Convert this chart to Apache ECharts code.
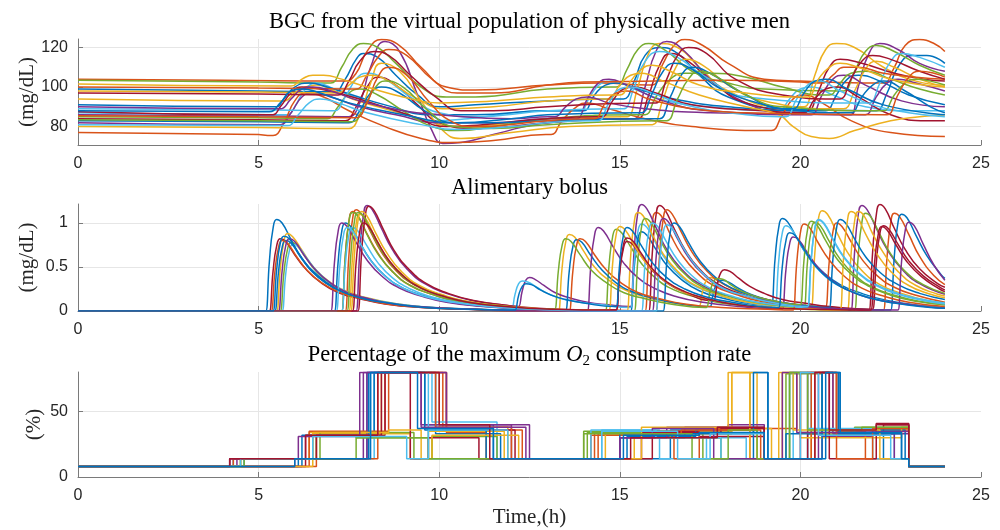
<!DOCTYPE html>
<html>
<head>
<meta charset="utf-8">
<title>BGC virtual population</title>
<script src="https://cdn.jsdelivr.net/npm/echarts@6/dist/echarts.min.js"></script>
<style>
  html, body { margin: 0; padding: 0; background: #fff; }
  #main { width: 1000px; height: 530px; }
</style>
</head>
<body>
<div id="main"></div>
<script>
// matlab default colour order
var lineColors = ['#0072BD', '#D95319', '#EDB120', '#7E2F8E', '#77AC30', '#4DBEEE', '#A2142F'];

var titleBgc = 'BGC from the virtual population of physically active men';
var titleBolus = 'Alimentary bolus';
var titleO2 = 'Percentage of the maximum {it|O}{sub|2} consumption rate';

// ---- BGC (mg/dL), [time h, value] ----
var bgc01 = [[0,99],[5,98],[6.95,97.6],[7.1,97.5],[7.4,104],[7.7,114],[7.9,117],[8.3,115],[8.8,106],[9.4,96],[10,90],[11,91],[13,93],[14.95,94],[15.1,94],[15.4,103],[15.7,116],[16.1,120],[16.6,117],[17.2,106],[18,95],[19.5,89],[21.95,88],[22.1,88],[22.4,97],[22.7,110],[23.1,116],[23.5,116],[24,112]];
var bgc02 = [[0,104],[4,103.5],[7.25,103],[7.4,103],[7.7,107],[8.0,118],[8.4,124],[8.9,121],[9.5,110],[10.2,100],[11,98.5],[13,101],[14.5,102],[15.75,101],[15.9,101],[16.2,112],[16.5,121],[16.8,124],[17.3,121],[18,112],[19,104],[20,103],[22.15,102],[22.3,102],[22.6,110],[22.9,121],[23.3,124],[23.7,122],[24,118]];
var bgc03 = [[0,94],[5.55,93],[5.7,93],[6.0,97],[6.3,100],[6.6,101],[7.1,98],[7.6,94],[8.5,89],[9.5,84],[10.5,80],[11.5,81],[13,84],[15.05,85],[15.2,85],[15.5,100],[15.8,117],[16.1,122],[16.6,120],[17.2,110],[18,98],[19.5,90],[19.95,90],[20.1,90],[20.4,106],[20.7,119],[21,122],[21.5,120],[22.3,110],[23.2,103],[24,101]];
var bgc04 = [[0,86],[5,85.5],[7.35,85],[7.5,85],[7.8,92],[8.1,110],[8.5,123],[8.9,118],[9.4,96],[9.8,78],[10.1,71.5],[10.6,72],[11.5,76],[13,82],[15.25,84],[15.4,84],[15.7,100],[16,118],[16.3,123],[16.8,118],[17.5,104],[18.5,92],[19.5,87],[21.25,86],[21.4,86],[21.6,100],[21.9,117],[22.2,122],[22.7,119],[23.3,112],[24,108]];
var bgc05 = [[0,103.5],[5,102.5],[6.85,102],[7.0,102],[7.3,110],[7.6,119],[7.9,122],[8.3,120],[8.8,112],[9.5,100],[10.2,95],[11,95],[13,99],[14.75,100],[14.9,100],[15.2,109],[15.5,119],[15.8,122],[16.3,118],[17,108],[18,102],[19,99],[21.05,98],[21.2,98],[21.5,108],[21.8,118],[22.1,121],[22.6,118],[23.3,111],[24,106]];
var bgc06 = [[0,87],[5.65,86],[5.8,86],[6.0,90],[6.3,99],[6.6,102],[7.1,99],[7.8,94],[8.8,88],[9.8,83],[10.8,84],[13,88],[13.75,88],[13.9,88],[14.2,96],[14.5,102],[14.8,103],[15.4,99],[16.3,93],[17.5,90],[19.25,88],[19.4,88],[19.7,94],[20,99],[20.3,100],[20.9,96],[21.8,90],[23,88],[24,88]];
var bgc07 = [[0,84],[5,83.5],[7.25,83],[7.4,83],[7.7,90],[8.0,100],[8.3,105],[8.8,101],[9.4,91],[10,82],[11,79],[13,82],[15.35,84],[15.5,84],[15.8,96],[16.1,111],[16.4,117],[16.9,113],[17.6,102],[18.5,92],[20.05,88],[20.2,88],[20.5,98],[20.8,110],[21.1,114],[21.7,112],[22.6,107],[23.4,104],[24,103]];
var bgc08 = [[0,91],[5.35,90],[5.5,90],[5.7,94],[6.0,100],[6.4,102],[6.9,100],[7.6,96],[8.5,91],[9.8,86],[11,86],[13,88],[13.85,88],[14.0,88],[14.3,96],[14.6,101],[14.9,102],[15.5,99],[16.5,94],[18,90],[20.55,88],[20.7,88],[21,96],[21.3,104],[21.6,106],[22.2,103],[23,96],[24,91]];
var bgc09 = [[0,77],[5,76],[5.25,75.5],[5.4,75.5],[5.7,82],[6.0,93],[6.3,97],[6.8,95],[7.5,88],[8.5,80],[9.5,74],[10.3,72],[11.5,73],[12.95,76],[13.1,76],[13.4,83],[13.8,90],[14.1,92],[14.7,89],[15.7,84],[17,80],[19.05,78],[19.2,78],[19.5,86],[19.8,94],[20.1,96],[20.6,92],[21.4,83],[22.5,77],[24,75]];
var bgc10 = [[0,80],[5,79.5],[7.35,79],[7.5,79],[7.8,86],[8.1,102],[8.4,112],[8.9,108],[9.5,93],[10.1,78],[10.6,74],[12,77],[13.6,80],[15.75,81],[15.9,81],[16.2,94],[16.5,108],[16.8,114],[17.3,111],[18,101],[19,93],[21.05,89],[21.2,89],[21.5,98],[21.8,109],[22.1,113],[22.6,110],[23.3,104],[24,100]];
var bgc11 = [[0,82],[5.45,81],[5.6,81],[5.9,87],[6.2,95],[6.5,97],[7,95],[7.8,90],[8.8,86],[10,82],[11.5,82],[13,84],[13.65,84],[13.8,84],[14.1,94],[14.4,102],[14.7,104],[15.2,101],[16.2,93],[17.5,88],[20.15,86],[20.3,86],[20.6,96],[20.9,104],[21.2,106],[21.8,101],[22.8,93],[24,90]];
var bgc12 = [[0,85],[5,84.5],[6.75,84],[6.9,84],[7.2,90],[7.5,97],[7.8,99],[8.3,96],[9,88],[9.8,80],[10.5,78],[11.5,80],[13,84],[15.55,86],[15.7,86],[16.0,95],[16.4,104],[16.8,107],[17.5,107],[18.5,105],[19.5,100],[20.65,96],[20.8,96],[21.1,102],[21.4,107],[21.8,108],[22.5,104],[23.3,99],[24,96]];
var bgc13 = [[0,89],[5,88.5],[6.95,88],[7.1,88],[7.4,95],[7.7,104],[8.0,107],[8.5,104],[9.2,95],[10,87],[11,85],[13,88],[14.95,89],[15.1,89],[15.4,100],[15.7,113],[16.1,118],[16.6,115],[17.3,106],[18.5,95],[21.75,92],[21.9,92],[22.2,102],[22.5,113],[22.8,117],[23.3,115],[24,110]];
var bgc14 = [[0,87.5],[5.25,86],[5.4,86],[5.6,90],[5.9,97],[6.2,100],[6.7,99],[7.4,96],[8.3,91],[9.3,85],[10.2,80],[11.2,81],[13,84],[14.35,85],[14.5,85],[14.8,93],[15.1,99],[15.4,100],[16,97],[17,91],[19,88],[19.95,87],[20.1,87],[20.4,94],[20.7,99],[21,100],[21.6,95],[22.5,86],[23.5,83],[24,83]];
var bgc15 = [[0,83],[5,82.5],[7.35,82],[7.5,82],[7.8,88],[8.1,97],[8.4,100],[8.9,97],[9.6,88],[10.4,82],[11.5,82],[13,83],[15.95,84],[16.1,84],[16.4,95],[16.7,106],[17,110],[17.5,107],[18.3,98],[19.5,89],[21.25,87],[21.4,87],[21.7,95],[22,101],[22.3,103],[22.9,98],[23.6,90],[24,87]];
var bgc16 = [[0,100],[5,99.5],[7.55,99],[7.7,99],[8.0,106],[8.3,115],[8.6,119],[9.1,116],[9.8,104],[10.5,97],[11.5,97],[13,101],[14,102.5],[16,103],[18,103.5],[20,102.5],[20.45,102],[20.6,102],[20.9,106],[21.2,110],[21.6,110],[22.3,107],[23.2,105],[24,104]];
var bgc17 = [[0,98],[5,97.5],[7.05,97],[7.2,97],[7.5,101],[7.8,105],[8.1,106],[8.6,103],[9.3,95],[10.2,89],[11.5,90],[13,93],[14.55,94],[14.7,94],[15,101],[15.3,106],[15.6,107],[16.2,103],[17.2,96],[18.5,90],[19.4,86],[19.8,80],[20.3,75],[20.8,74],[21.5,78],[22.5,83],[23.3,85],[24,86]];
var bgc18 = [[0,90],[5.45,89],[5.6,89],[5.9,94],[6.2,99],[6.5,100],[7,98],[7.8,93],[9,88],[10,86],[12,84],[13.05,85],[13.2,85],[13.5,90],[13.8,94],[14.1,95],[14.7,92],[15.7,89],[17.5,87],[21.65,86],[21.8,86],[22.1,95],[22.4,102],[22.7,104],[23.2,102],[24,98]];
var bgc19 = [[0,83.5],[5,83],[7.45,82.5],[7.6,82.5],[7.9,89],[8.2,99],[8.5,103],[9,100],[9.7,88],[10.4,80],[11.5,79],[13,81],[16.15,83],[16.3,83],[16.6,94],[16.9,104],[17.2,108],[17.7,105],[18.5,96],[19.5,90],[22.15,88],[22.3,88],[22.6,96],[22.9,102],[23.2,104],[23.6,103],[24,101]];
var bgc20 = [[0,81],[5.65,80.5],[5.8,80.5],[6.1,86],[6.4,92],[6.7,94],[7.2,92],[8,87],[9.5,81],[10.5,78.5],[12,80],[13,82],[14.25,83],[14.4,83],[14.7,92],[15.0,99],[15.3,100],[15.9,97],[16.8,91],[18.5,86],[19.45,85],[19.6,85],[19.9,94],[20.2,101],[20.5,103],[21.1,98],[22,91],[23,87],[24,85]];
var bgc21 = [[0,97],[5,96.5],[7.05,96],[7.2,96],[7.5,103],[7.8,113],[8.2,118],[8.6,116],[9.2,106],[9.9,95],[10.6,88],[11.5,88],[13,90],[15.85,92],[16,92],[16.3,104],[16.6,116],[16.9,120],[17.4,117],[18.2,104],[19.5,96],[20.95,94],[21.1,94],[21.4,104],[21.7,113],[22,116],[22.5,114],[23.3,108],[24,104]];
var bgc22 = [[0,88],[5.15,87.5],[5.3,87.5],[5.6,92],[5.9,98],[6.2,99],[6.7,97],[7.5,92],[9,86],[10.5,82],[12,84],[13,86],[15.45,87],[15.6,87],[15.9,97],[16.2,108],[16.5,112],[17,109],[17.8,99],[19,91],[19.65,89],[19.8,89],[20.1,97],[20.4,103],[20.7,104],[21.3,99],[22.3,91],[24,86]];
var bgc23 = [[0,85.5],[5,85],[7.55,84.5],[7.7,84.5],[8.0,92],[8.3,105],[8.6,110],[9.1,106],[9.7,93],[10.3,83],[11,80],[13,83],[14.15,84],[14.3,84],[14.6,92],[14.9,97],[15.2,98],[15.8,94],[17,89],[18.5,87],[22.25,86],[22.4,86],[22.7,96],[23,105],[23.3,108],[23.7,107],[24,105]];
var bgc24 = [[0,101.5],[5.75,100.5],[5.9,100.5],[6.2,104],[6.5,106],[6.8,106],[7.3,104],[8,100],[9,95],[10,92],[11.5,93],[13,95],[14.85,96],[15,96],[15.3,103],[15.6,109],[15.9,111],[16.4,108],[17.2,101],[18.5,97],[20.05,95],[20.2,95],[20.5,104],[20.8,110],[21.1,112],[21.6,110],[22.5,104],[24,100]];

// ---- alimentary bolus (mg/dL) ----
var bol01 = [[0,0],[5.17,0],[5.2,0],[5.3,.57],[5.4,.94],[5.5,1.04],[5.65,1.0],[5.9,.81],[6.2,.6],[6.6,.42],[7.1,.27],[7.7,.18],[8.4,.1],[9.4,.05],[10.7,.02],[12.2,.01],[15.27,0],[15.3,0],[15.4,.5],[15.5,.81],[15.6,.9],[15.75,.86],[16.0,.7],[16.3,.52],[16.7,.36],[17.2,.23],[17.8,.15],[18.5,.09],[19.17,.06],[19.2,.06],[19.3,.6],[19.4,.95],[19.5,1.05],[19.65,1.01],[19.9,.83],[20.2,.63],[20.6,.45],[21.1,.3],[21.7,.2],[22.4,.12],[23.4,.06],[24,.04]];
var bol02 = [[0,0],[7.37,0],[7.4,0],[7.5,.63],[7.6,1.04],[7.7,1.15],[7.85,1.1],[8.1,.9],[8.4,.67],[8.8,.46],[9.3,.3],[9.9,.2],[10.6,.12],[11.6,.06],[12.9,.02],[14.4,.01],[15.67,0],[15.7,0],[15.8,.62],[15.9,1.01],[16.0,1.12],[16.15,1.08],[16.4,.87],[16.7,.65],[17.1,.45],[17.6,.29],[18.2,.19],[18.9,.11],[19.9,.06],[21.2,.02],[22.27,.01],[22.3,.01],[22.4,.62],[22.5,1.0],[22.6,1.11],[22.75,1.07],[23.0,.87],[23.3,.62],[23.7,.4],[24,.3]];
var bol03 = [[0,0],[5.47,0],[5.5,0],[5.6,.48],[5.7,.79],[5.8,.88],[5.95,.84],[6.2,.69],[6.5,.51],[6.9,.35],[7.4,.23],[8.0,.15],[8.7,.09],[9.7,.04],[11.0,.02],[12.5,0],[13.27,0],[13.3,0],[13.4,.48],[13.5,.78],[13.6,.87],[13.75,.84],[14.0,.68],[14.3,.5],[14.7,.35],[15.2,.23],[15.8,.15],[16.5,.09],[17.17,.06],[17.2,.06],[17.3,.24],[17.4,.35],[17.5,.38],[17.65,.36],[17.9,.3],[18.2,.23],[18.6,.16],[19.1,.11],[19.7,.07],[20.27,.05],[20.3,.05],[20.4,.66],[20.5,1.05],[20.6,1.14],[20.75,1.1],[21.0,.9],[21.3,.67],[21.7,.46],[22.2,.3],[22.8,.2],[23.5,.12],[24,.09]];
var bol04 = [[0,0],[7.67,0],[7.7,0],[7.8,.66],[7.9,1.08],[8.0,1.2],[8.15,1.15],[8.4,.94],[8.7,.7],[9.1,.48],[9.6,.31],[10.2,.2],[10.9,.12],[11.9,.06],[12.17,.05],[12.2,.05],[12.3,.23],[12.4,.35],[12.5,.38],[12.65,.36],[12.9,.29],[13.2,.21],[13.6,.15],[14.1,.1],[14.7,.07],[15.27,.05],[15.3,.05],[15.4,.7],[15.5,1.12],[15.6,1.21],[15.75,1.16],[16.0,.95],[16.3,.7],[16.7,.48],[17.2,.31],[17.8,.2],[18.5,.12],[19.5,.06],[20.8,.02],[21.37,.01],[21.4,.01],[21.5,.67],[21.6,1.09],[21.7,1.2],[21.85,1.15],[22.1,.94],[22.4,.7],[22.8,.48],[23.3,.31],[24,.19]];
var bol05 = [[0,0],[5.57,0],[5.6,0],[5.7,.43],[5.8,.7],[5.9,.78],[6.05,.75],[6.3,.61],[6.6,.45],[7.0,.31],[7.5,.2],[8.1,.13],[8.8,.08],[9.8,.04],[11.1,.02],[12.6,0],[14.57,0],[14.6,0],[14.7,.51],[14.8,.84],[14.9,.93],[15.05,.89],[15.3,.73],[15.6,.54],[16.0,.37],[16.5,.24],[17.1,.16],[17.8,.09],[18.8,.05],[20.1,.02],[21.47,.01],[21.5,.01],[21.6,.62],[21.7,1.0],[21.8,1.11],[21.95,1.07],[22.2,.87],[22.5,.65],[22.9,.45],[23.4,.3],[24,.2]];
var bol06 = [[0,0],[5.62,0],[5.65,0],[5.75,.42],[5.85,.68],[5.95,.76],[6.1,.73],[6.35,.59],[6.65,.44],[7.05,.3],[7.55,.2],[8.15,.13],[8.85,.08],[9.85,.04],[11.15,.02],[11.97,.01],[12.0,.01],[12.1,.19],[12.2,.31],[12.3,.34],[12.45,.33],[12.7,.27],[13.0,.2],[13.4,.14],[13.9,.1],[14.5,.07],[15.27,.04],[15.3,.04],[15.4,.56],[15.5,.9],[15.6,.99],[15.75,.95],[16.0,.77],[16.3,.57],[16.7,.39],[17.2,.26],[17.8,.17],[18.5,.1],[19.27,.06],[19.3,.06],[19.4,.57],[19.5,.89],[19.6,.97],[19.75,.93],[20.0,.76],[20.3,.57],[20.7,.39],[21.2,.26],[21.8,.17],[22.5,.1],[23.5,.05],[24,.03]];
var bol07 = [[0,0],[5.27,0],[5.3,0],[5.4,.45],[5.5,.74],[5.6,.82],[5.75,.79],[6.0,.64],[6.3,.48],[6.7,.33],[7.2,.21],[7.8,.14],[8.5,.08],[9.5,.04],[10.8,.02],[12.3,0],[15.77,0],[15.8,0],[15.9,.66],[16.0,1.08],[16.1,1.2],[16.25,1.15],[16.5,.94],[16.8,.7],[17.2,.48],[17.7,.31],[18.3,.2],[19.0,.12],[20.0,.06],[21.3,.02],[21.87,.01],[21.9,.01],[22.0,.67],[22.1,1.09],[22.2,1.21],[22.35,1.16],[22.6,.94],[22.9,.7],[23.3,.48],[23.8,.31],[24,.27]];
var bol08 = [[0,0],[7.07,0],[7.1,0],[7.2,.55],[7.3,.9],[7.4,1.0],[7.55,.96],[7.8,.78],[8.1,.58],[8.5,.4],[9.0,.26],[9.6,.17],[10.3,.1],[11.3,.05],[12.6,.02],[13.47,.01],[13.5,.01],[13.6,.45],[13.7,.73],[13.8,.81],[13.95,.78],[14.2,.63],[14.5,.47],[14.9,.32],[15.4,.21],[16.0,.14],[16.7,.08],[17.47,.05],[17.5,.05],[17.6,.22],[17.7,.32],[17.8,.35],[17.95,.34],[18.2,.28],[18.5,.21],[18.9,.15],[19.4,.1],[20.0,.07],[20.7,.04],[21.7,.02],[22.47,.01],[22.5,.01],[22.6,.62],[22.7,1.0],[22.8,1.1],[22.95,1.06],[23.2,.86],[23.5,.63],[23.9,.41],[24,.37]];
var bol09 = [[0,0],[7.27,0],[7.3,0],[7.4,.62],[7.5,1.02],[7.6,1.13],[7.75,1.08],[8.0,.88],[8.3,.66],[8.7,.45],[9.2,.29],[9.8,.19],[10.5,.11],[11.5,.06],[12.8,.02],[14.3,.01],[15.97,0],[16.0,0],[16.1,.63],[16.2,1.04],[16.3,1.15],[16.45,1.1],[16.7,.9],[17.0,.67],[17.4,.46],[17.9,.3],[18.5,.2],[19.2,.12],[20.2,.06],[20.67,.05],[20.7,.05],[20.8,.57],[20.9,.9],[21.0,1.0],[21.15,.96],[21.4,.79],[21.7,.59],[22.1,.41],[22.6,.27],[23.2,.18],[24,.1]];
var bol10 = [[0,0],[7.47,0],[7.5,0],[7.6,.61],[7.7,.99],[7.8,1.1],[7.95,1.06],[8.2,.86],[8.5,.64],[8.9,.44],[9.4,.29],[10.0,.19],[10.7,.11],[11.7,.06],[13.0,.02],[14.5,.01],[15.17,0],[15.2,0],[15.3,.62],[15.4,1.01],[15.5,1.12],[15.65,1.08],[15.9,.87],[16.2,.65],[16.6,.45],[17.1,.29],[17.7,.19],[18.4,.11],[19.4,.06],[20.7,.02],[21.27,.01],[21.3,.01],[21.4,.63],[21.5,1.02],[21.6,1.13],[21.75,1.09],[22.0,.88],[22.3,.66],[22.7,.45],[23.2,.29],[23.8,.19],[24,.17]];
var bol11 = [[0,0],[6.97,0],[7.0,0],[7.1,.55],[7.2,.9],[7.3,1.0],[7.45,.96],[7.7,.78],[8.0,.58],[8.4,.4],[8.9,.26],[9.5,.17],[10.2,.1],[11.2,.05],[12.5,.02],[14.07,0],[14.1,0],[14.2,.52],[14.3,.86],[14.4,.95],[14.55,.91],[14.8,.74],[15.1,.55],[15.5,.38],[16.0,.25],[16.6,.16],[17.3,.1],[18.3,.05],[19.47,.02],[19.5,.02],[19.6,.47],[19.7,.76],[19.8,.84],[19.95,.81],[20.2,.66],[20.5,.49],[20.9,.34],[21.4,.22],[22.0,.14],[22.7,.09],[23.7,.04],[24,.03]];
var bol12 = [[0,0],[7.27,0],[7.3,0],[7.4,.62],[7.5,1.01],[7.6,1.12],[7.75,1.08],[8.0,.87],[8.3,.65],[8.7,.45],[9.2,.29],[9.8,.19],[10.5,.11],[11.5,.06],[12.8,.02],[14.3,.01],[15.37,0],[15.4,0],[15.5,.58],[15.6,.95],[15.7,1.05],[15.85,1.01],[16.1,.82],[16.4,.61],[16.8,.42],[17.3,.27],[17.9,.18],[18.6,.11],[19.6,.05],[20.07,.04],[20.1,.04],[20.2,.58],[20.3,.92],[20.4,1.01],[20.55,.97],[20.8,.79],[21.1,.59],[21.5,.41],[22.0,.27],[22.6,.18],[23.3,.11],[24,.07]];
var bol13 = [[0,0],[7.27,0],[7.3,0],[7.4,.52],[7.5,.86],[7.6,.95],[7.75,.91],[8.0,.74],[8.3,.55],[8.7,.38],[9.2,.25],[9.8,.16],[10.5,.1],[11.5,.05],[12.8,.02],[14.3,0],[15.57,0],[15.6,0],[15.7,.55],[15.8,.9],[15.9,1.0],[16.05,.96],[16.3,.78],[16.6,.58],[17.0,.4],[17.5,.26],[18.1,.17],[18.8,.1],[19.8,.05],[20.17,.04],[20.2,.04],[20.3,.59],[20.4,.94],[20.5,1.04],[20.65,1.0],[20.9,.82],[21.2,.62],[21.6,.44],[22.1,.3],[22.7,.2],[23.4,.13],[24,.09]];
var bol14 = [[0,0],[7.72,0],[7.75,0],[7.85,.65],[7.95,1.07],[8.05,1.19],[8.2,1.14],[8.45,.93],[8.75,.69],[9.15,.48],[9.65,.31],[10.25,.2],[10.95,.12],[11.95,.06],[13.25,.02],[14.87,.01],[14.9,.01],[15.0,.44],[15.1,.71],[15.2,.79],[15.35,.76],[15.6,.62],[15.9,.46],[16.3,.32],[16.8,.21],[17.57,.12],[17.6,.12],[17.7,.31],[17.8,.44],[17.9,.47],[18.05,.45],[18.3,.37],[18.6,.28],[19.0,.2],[19.5,.13],[20.1,.09],[20.8,.05],[21.97,.02],[22.0,.02],[22.1,.54],[22.2,.88],[22.3,.97],[22.45,.93],[22.7,.76],[23.0,.57],[23.4,.4],[23.9,.26],[24,.24]];
var bol15 = [[0,0],[5.42,0],[5.45,0],[5.55,.44],[5.65,.72],[5.75,.8],[5.9,.77],[6.15,.62],[6.45,.46],[6.85,.32],[7.35,.21],[7.95,.14],[8.65,.08],[9.65,.04],[10.95,.02],[12.45,0],[16.17,0],[16.2,0],[16.3,.55],[16.4,.9],[16.5,1.0],[16.65,.96],[16.9,.78],[17.2,.58],[17.6,.4],[18.1,.26],[18.7,.17],[19.4,.1],[20.4,.05],[20.77,.04],[20.8,.04],[20.9,.59],[21.0,.94],[21.1,1.04],[21.25,1.0],[21.5,.82],[21.8,.62],[22.2,.44],[22.7,.3],[23.3,.2],[24,.13]];
var bol16 = [[0,0],[5.32,0],[5.35,0],[5.45,.44],[5.55,.72],[5.65,.8],[5.8,.77],[6.05,.62],[6.35,.46],[6.75,.32],[7.25,.21],[7.85,.14],[8.55,.08],[9.55,.04],[10.85,.02],[12.35,0],[13.57,0],[13.6,0],[13.7,.45],[13.8,.74],[13.9,.82],[14.05,.79],[14.3,.64],[14.6,.48],[15.0,.33],[15.5,.21],[16.1,.14],[16.8,.08],[17.8,.04],[19.1,.02],[19.77,.01],[19.8,.01],[19.9,.55],[20.0,.89],[20.1,.99],[20.25,.95],[20.5,.77],[20.8,.58],[21.2,.4],[21.7,.26],[22.3,.17],[23.0,.1],[24,.05]];
var bol17 = [[0,0],[7.52,0],[7.55,0],[7.65,.62],[7.75,1.02],[7.85,1.13],[8.0,1.08],[8.25,.88],[8.55,.66],[8.95,.45],[9.45,.29],[10.05,.19],[10.75,.11],[11.75,.06],[13.05,.02],[14.67,.01],[14.7,.01],[14.8,.53],[14.9,.87],[15.0,.96],[15.15,.92],[15.4,.75],[15.7,.56],[16.1,.39],[16.6,.25],[17.2,.16],[17.9,.1],[18.9,.05],[20.2,.02],[21.07,.01],[21.1,.01],[21.2,.63],[21.3,1.02],[21.4,1.13],[21.55,1.09],[21.8,.88],[22.1,.66],[22.5,.45],[23.0,.29],[23.6,.19],[24,.15]];
var bol18 = [[0,0],[5.52,0],[5.55,0],[5.65,.45],[5.75,.74],[5.85,.82],[6.0,.79],[6.25,.64],[6.55,.48],[6.95,.33],[7.45,.21],[8.05,.14],[8.75,.08],[9.75,.04],[11.05,.02],[12.55,0],[15.87,0],[15.9,0],[16.0,.58],[16.1,.95],[16.2,1.05],[16.35,1.01],[16.6,.82],[16.9,.61],[17.3,.42],[17.8,.27],[18.4,.18],[19.1,.11],[20.1,.05],[21.4,.02],[22.67,.01],[22.7,.01],[22.8,.56],[22.9,.91],[23.0,1.01],[23.15,.97],[23.4,.76],[23.7,.52],[24,.35]];
var bol19 = [[0,0],[7.42,0],[7.45,0],[7.55,.62],[7.65,1.01],[7.75,1.12],[7.9,1.08],[8.15,.87],[8.45,.65],[8.85,.45],[9.35,.29],[9.95,.19],[10.65,.11],[11.65,.06],[12.95,.02],[13.17,.02],[13.2,.02],[13.3,.46],[13.4,.74],[13.5,.82],[13.65,.79],[13.9,.64],[14.2,.47],[14.6,.33],[15.1,.21],[15.7,.14],[16.4,.08],[17.37,.04],[17.4,.04],[17.5,.22],[17.6,.34],[17.7,.37],[17.85,.36],[18.1,.29],[18.4,.22],[18.8,.16],[19.3,.11],[19.97,.07],[20.0,.07],[20.1,.58],[20.2,.93],[20.3,1.02],[20.45,.98],[20.7,.8],[21.0,.6],[21.4,.42],[21.9,.28],[22.5,.18],[23.2,.11],[24,.07]];
var bol20 = [[0,0],[7.12,0],[7.15,0],[7.25,.52],[7.35,.86],[7.45,.95],[7.6,.91],[7.85,.74],[8.15,.55],[8.55,.38],[9.05,.25],[9.65,.16],[10.35,.1],[11.35,.05],[12.65,.02],[14.15,0],[15.97,0],[16.0,0],[16.1,.54],[16.2,.88],[16.3,.98],[16.45,.94],[16.7,.76],[17.0,.57],[17.4,.39],[17.9,.25],[18.5,.17],[19.2,.1],[20.17,.05],[20.2,.05],[20.3,.59],[20.4,.93],[20.5,1.03],[20.65,.99],[20.9,.81],[21.2,.61],[21.6,.43],[22.1,.29],[22.7,.19],[23.4,.12],[24,.08]];
var bol21 = [[0,0],[7.57,0],[7.6,0],[7.7,.55],[7.8,.9],[7.9,1.0],[8.05,.96],[8.3,.78],[8.6,.58],[9.0,.4],[9.5,.26],[10.1,.17],[10.8,.1],[11.8,.05],[13.1,.02],[14.87,.01],[14.9,.01],[15.0,.46],[15.1,.75],[15.2,.83],[15.35,.8],[15.6,.65],[15.9,.48],[16.3,.33],[16.8,.22],[17.4,.14],[18.1,.08],[19.1,.04],[20.4,.02],[21.92,.01],[21.95,.01],[22.05,.53],[22.15,.86],[22.25,.96],[22.4,.92],[22.65,.75],[22.95,.56],[23.35,.39],[23.85,.25],[24,.22]];
var bol22 = [[0,0],[5.37,0],[5.4,0],[5.5,.47],[5.6,.77],[5.7,.85],[5.85,.82],[6.1,.66],[6.4,.49],[6.8,.34],[7.3,.22],[7.9,.14],[8.6,.09],[9.6,.04],[10.9,.02],[12.07,.01],[12.1,.01],[12.2,.18],[12.3,.28],[12.4,.31],[12.55,.3],[12.8,.24],[13.1,.18],[13.5,.13],[14.0,.09],[14.87,.05],[14.9,.05],[15.0,.55],[15.1,.86],[15.2,.95],[15.35,.91],[15.6,.74],[15.9,.55],[16.3,.38],[16.8,.25],[17.4,.16],[18.1,.1],[19.37,.04],[19.4,.04],[19.5,.51],[19.6,.8],[19.7,.89],[19.85,.86],[20.1,.7],[20.4,.52],[20.8,.36],[21.3,.24],[21.9,.15],[22.6,.09],[23.6,.04],[24,.03]];

// ---- O2 consumption (%), step changes [time h, new level] ----
var o2s01 = [[0,8],[6.1,14],[8.0,80],[9.6,40],[11.5,14],[16.4,36],[18.6,80],[19.1,14],[20.2,33],[22.3,14],[23.0,8],[24,8]];
var o2s02 = [[0,8],[6.6,33],[8.5,80],[10.1,36],[12.3,14],[14.3,34],[17.5,37],[19.9,80],[20.9,36],[23.0,8],[24,8]];
var o2s03 = [[0,8],[4.5,14],[6.4,34],[8.4,80],[10.0,38],[11.9,14],[15.4,35],[18.1,80],[18.8,14],[20.3,33],[22.4,35],[23.0,8],[24,8]];
var o2s04 = [[0,8],[4.4,14],[7.9,80],[9.5,40],[12.0,14],[15.0,30],[16.8,38],[19.0,14],[20.6,31],[22.0,33],[23.0,8],[24,8]];
var o2s05 = [[0,8],[4.6,14],[6.6,32],[7.7,30],[9.8,14],[14.1,34],[16.2,33],[17.3,14],[19.6,79],[20.6,32],[21.8,37],[23.0,8],[24,8]];
var o2s06 = [[0,8],[4.6,14],[8.2,80],[9.8,42],[11.6,14],[14.5,36],[16.1,14],[17.4,30],[18.5,14],[19.8,80],[20.3,34],[22.6,14],[23.0,8],[24,8]];
var o2s07 = [[0,8],[4.2,14],[6.3,32],[8.5,80],[10.2,36],[12.1,14],[15.9,35],[17.2,31],[19.0,14],[20.2,80],[21.0,34],[22.3,40],[23.0,8],[24,8]];
var o2s08 = [[0,8],[6.2,32],[8.2,80],[9.9,33],[11.7,14],[15.2,31],[17.1,36],[18.7,14],[19.6,33],[20.6,80],[21.1,36],[22.9,14],[23.0,8],[24,8]];
var o2s09 = [[0,8],[6.4,35],[8.6,80],[10.2,34],[11.3,14],[14.2,32],[16.5,14],[17.2,36],[18.6,14],[20.3,80],[21.0,35],[21.8,14],[23.0,8],[24,8]];
var o2s10 = [[0,8],[4.5,14],[6.5,33],[9.2,14],[9.7,35],[11.8,14],[14.6,33],[18.1,80],[18.6,37],[19.2,14],[19.5,80],[20.0,30],[22.8,38],[23.0,8],[24,8]];
var o2s11 = [[0,8],[6.0,14],[8.0,80],[10.2,40],[12.5,14],[15.0,30],[16.3,38],[18.0,40],[19.0,14],[20.5,80],[20.9,33],[22.6,14],[23.0,8],[24,8]];
var o2s12 = [[0,8],[4.5,14],[6.7,34],[9.3,14],[9.8,31],[11.6,14],[14.0,35],[16.4,30],[17.8,14],[19.7,80],[20.0,34],[21.5,38],[23.0,8],[24,8]];
var o2s13 = [[0,8],[4.6,14],[6.5,32],[8.1,80],[9.7,14],[14.2,36],[16.0,30],[17.8,14],[19.7,80],[20.2,37],[22.0,14],[23.0,8],[24,8]];
var o2s14 = [[0,8],[6.3,14],[6.6,32],[8.4,80],[9.2,14],[9.7,30],[11.1,14],[15.6,34],[17.8,37],[19.0,14],[20.0,80],[20.8,14],[22.1,40],[23.0,8],[24,8]];
var o2s15 = [[0,8],[4.3,14],[8.05,80],[9.6,36],[11.3,14],[15.0,33],[18.7,80],[19.1,14],[20.6,80],[21.05,33],[22.8,14],[23.0,8],[24,8]];
var o2s16 = [[0,8],[4.3,14],[8.3,80],[9.9,38],[12.0,14],[14.4,33],[16.7,36],[18.9,14],[20.4,80],[21.0,14],[22.0,37],[23.0,8],[24,8]];
var o2s17 = [[0,8],[6.5,34],[8.6,36],[9.5,14],[9.8,32],[12.2,14],[15.6,38],[18.0,80],[18.6,14],[19.4,80],[19.8,36],[22.2,14],[23.0,8],[24,8]];
var o2s18 = [[0,8],[4.2,14],[6.1,31],[7.8,80],[9.5,38],[12.4,14],[15.0,30],[15.9,37],[17.6,14],[19.5,80],[19.9,34],[21.2,35],[23.0,8],[24,8]];
var o2s19 = [[0,8],[4.6,14],[7.7,30],[9.7,14],[14.0,33],[17.0,14],[18.0,36],[18.8,14],[19.7,80],[20.2,36],[21.7,38],[23.0,8],[24,8]];
var o2s20 = [[0,8],[4.5,14],[6.5,31],[9.1,14],[9.7,36],[11.9,14],[14.5,35],[16.6,14],[17.5,33],[19.0,14],[20.0,80],[20.5,32],[22.5,14],[23.0,8],[24,8]];
var o2s21 = [[0,8],[4.2,14],[6.3,32],[8.3,80],[10.0,40],[11.4,14],[15.3,30],[17.7,38],[19.0,14],[20.4,80],[20.8,36],[22.1,41],[23.0,8],[24,8]];
var o2s22 = [[0,8],[6.0,14],[8.1,80],[9.4,37],[11.5,14],[15.1,32],[17.2,34],[19.0,14],[20.7,80],[21.1,34],[22.8,14],[23.0,8],[24,8]];

var bgcCurves = [bgc01, bgc02, bgc03, bgc04, bgc05, bgc06, bgc07, bgc08, bgc09, bgc10, bgc11, bgc12,
  bgc13, bgc14, bgc15, bgc16, bgc17, bgc18, bgc19, bgc20, bgc21, bgc22, bgc23, bgc24];
var bolusCurves = [bol01, bol02, bol03, bol04, bol05, bol06, bol07, bol08, bol09, bol10, bol11,
  bol12, bol13, bol14, bol15, bol16, bol17, bol18, bol19, bol20, bol21, bol22];
var o2Curves = [o2s01, o2s02, o2s03, o2s04, o2s05, o2s06, o2s07, o2s08, o2s09, o2s10, o2s11,
  o2s12, o2s13, o2s14, o2s15, o2s16, o2s17, o2s18, o2s19, o2s20, o2s21, o2s22];

// axis limits (tight, like matlab "axis tight")
var yLimits = [[70.7, 124.3], [0, 1.216], [0, 80.3]];
var yStep = [20, 0.5, 50];
var yNames = ['(mg/dL)', '(mg/dL)', '(%)'];
var yNameGap = [40, 40, 33];

var serif = 'Liberation Serif';
var sans = 'Liberation Sans';
var axisGray = '#7a7a7a';
var textDark = '#262626';

var grids = [
  { left: 78, right: 19, top: 39, height: 106, outerBoundsMode: 'none' },
  { left: 78, right: 19, top: 204, height: 107, outerBoundsMode: 'none' },
  { left: 78, right: 19, top: 372, height: 105, outerBoundsMode: 'none' }
];

function makeSeries(curves, idx, isStep) {
  return curves.map(function (d, i) {
    var c = lineColors[i % lineColors.length];
    return {
      type: 'line',
      xAxisIndex: idx,
      yAxisIndex: idx,
      data: d,
      symbol: 'none',
      showSymbol: false,
      smooth: isStep ? false : 0.5,
      step: isStep ? 'end' : false,
      silent: true,
      lineStyle: { width: 1.5, color: c },
      itemStyle: { color: c }
    };
  });
}

function setOption(chart) {
  var xAxes = [], yAxes = [];
  for (var k = 0; k < 3; k++) {
    xAxes.push({
      type: 'value',
      gridIndex: k,
      min: 0,
      max: 25,
      interval: 5,
      name: k === 2 ? 'Time,(h)' : '',
      nameLocation: 'middle',
      nameGap: 30,
      nameMoveOverlap: false,
      nameTextStyle: { fontFamily: serif, fontSize: 21, color: textDark },
      axisLine: { onZero: false, lineStyle: { color: axisGray, width: 1 } },
      axisTick: { inside: true, length: 5, lineStyle: { color: axisGray } },
      axisLabel: { color: textDark, fontFamily: sans, fontSize: 16, margin: 11 },
      splitLine: { show: true, showMinLine: false, showMaxLine: false, lineStyle: { color: '#e6e6e6', width: 1 } }
    });
    yAxes.push({
      type: 'value',
      gridIndex: k,
      min: yLimits[k][0],
      max: yLimits[k][1],
      // fixed step without moving the first tick off the nice multiples
      minInterval: yStep[k],
      maxInterval: yStep[k],
      name: yNames[k],
      nameLocation: 'middle',
      nameGap: yNameGap[k],
      nameMoveOverlap: false,
      nameTextStyle: { fontFamily: serif, fontSize: 21, color: textDark },
      axisLine: { show: true, lineStyle: { color: axisGray, width: 1 } },
      axisTick: { show: true, inside: true, length: 5, lineStyle: { color: axisGray } },
      axisLabel: { color: textDark, fontFamily: sans, fontSize: 16, margin: 10, showMinLabel: k > 0, showMaxLabel: false },
      splitLine: { show: true, showMinLine: false, showMaxLine: false, lineStyle: { color: '#e6e6e6', width: 1 } }
    });
  }

  var option = {
    animation: false,
    backgroundColor: '#ffffff',
    grid: grids,
    xAxis: xAxes,
    yAxis: yAxes,
    // panel titles, centred over the plot area
    graphic: [
      { type: 'text', x: 529.5, y: 22, silent: true,
        style: { text: titleBgc, fill: '#000', fontFamily: serif, fontSize: 22.5, align: 'center', verticalAlign: 'middle' } },
      { type: 'text', x: 529.5, y: 188, silent: true,
        style: { text: titleBolus, fill: '#000', fontFamily: serif, fontSize: 22.5, align: 'center', verticalAlign: 'middle' } },
      { type: 'text', x: 529.5, y: 355, silent: true,
        style: {
          text: titleO2, fill: '#000', fontFamily: serif, fontSize: 22.5, align: 'center', verticalAlign: 'middle',
          rich: {
            it: { fontFamily: serif, fontSize: 22.5, fontStyle: 'italic', fill: '#000' },
            sub: { fontFamily: serif, fontSize: 15, fill: '#000', verticalAlign: 'bottom', lineHeight: 27 }
          }
        } }
    ],
    series: makeSeries(bgcCurves, 0, false)
      .concat(makeSeries(bolusCurves, 1, false))
      .concat(makeSeries(o2Curves, 2, true))
  };
  chart.setOption(option);
}

var chart = echarts.init(document.getElementById('main'), null, { renderer: 'canvas' });
setOption(chart);
</script>
</body>
</html>
